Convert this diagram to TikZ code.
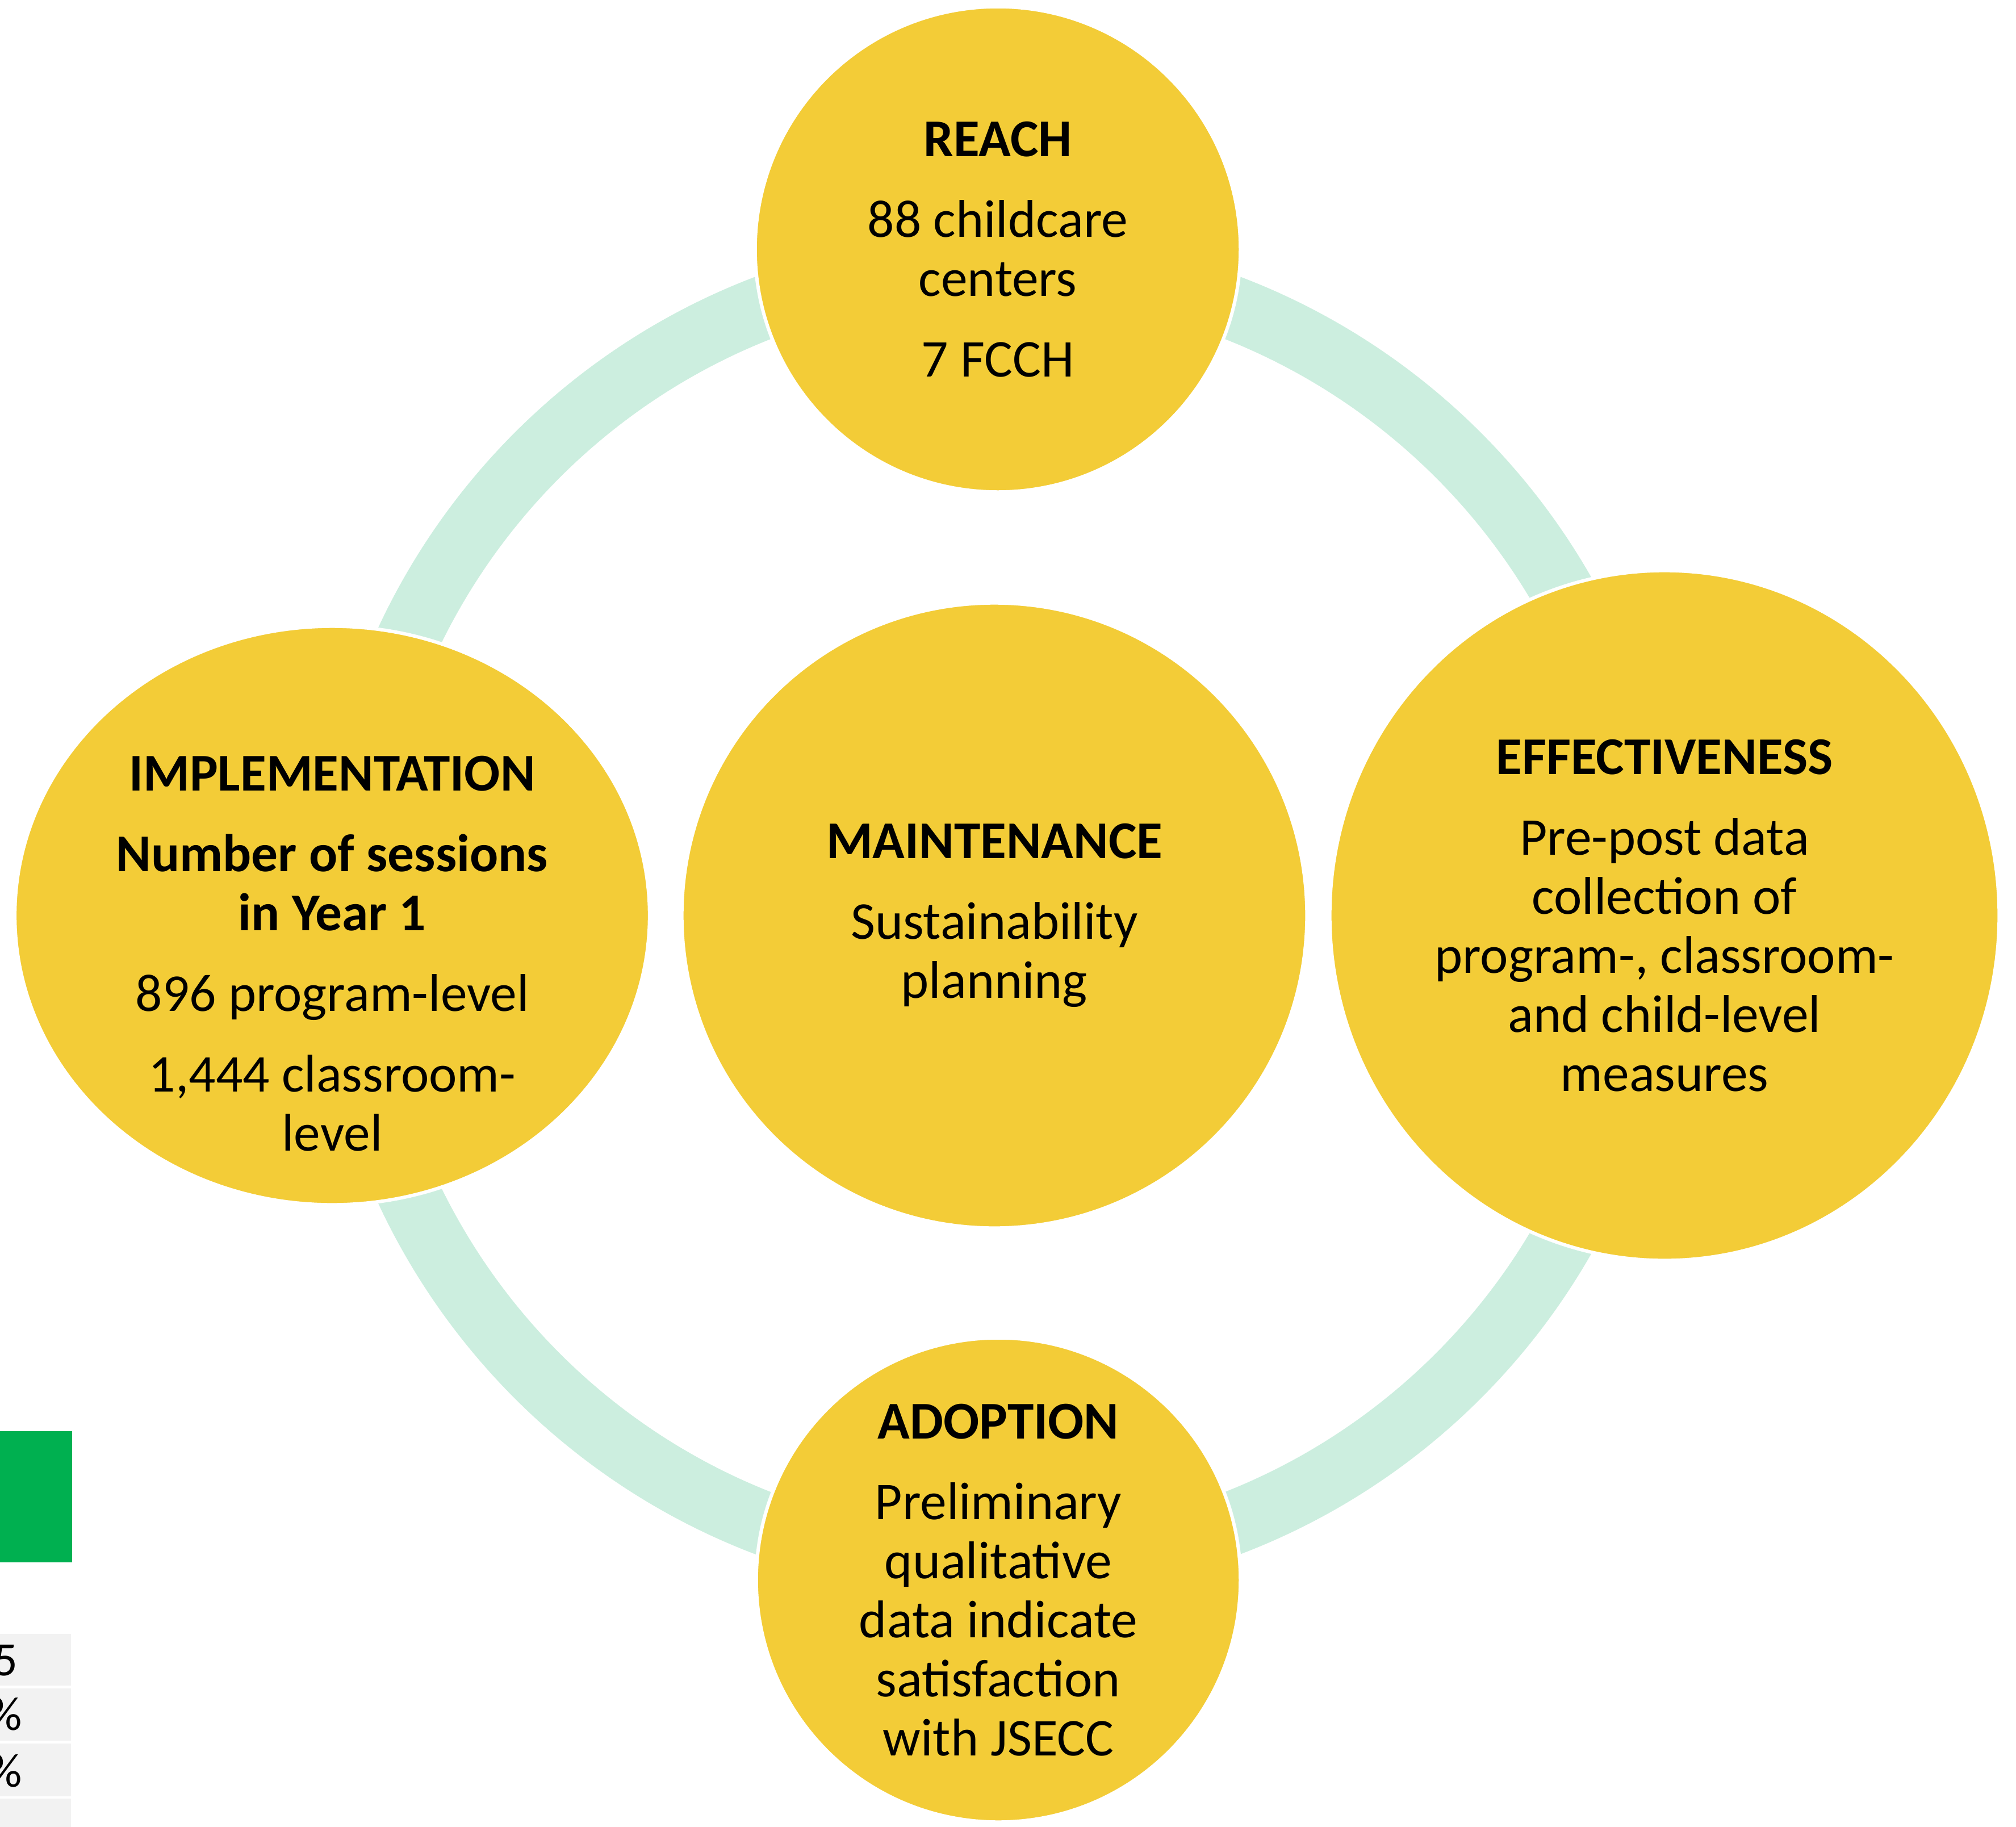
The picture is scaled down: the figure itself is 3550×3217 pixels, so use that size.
\documentclass[tikz,border=0pt]{standalone}
\usepackage{fontspec}
\setmainfont{Carlito}
\usepackage{tikz}
\usetikzlibrary{shapes.geometric}
\definecolor{stageyellow}{HTML}{F3CC37}
\definecolor{ringmint}{HTML}{CCEEDF}
\definecolor{cellgreen}{HTML}{00B050}
\definecolor{cellgray}{HTML}{F2F2F2}

\begin{document}
\begin{tikzpicture}[x=0.01cm,y=-0.01cm,
	stagefont/.style={font=\fontsize{26.6pt}{29.6pt}\selectfont},
	stage/.style={circle,fill=stageyellow,draw=white,line width=0.06cm,inner sep=0pt,align=center,stagefont},
	stageoval/.style={ellipse,fill=stageyellow,draw=white,line width=0.06cm,inner sep=0pt,align=center,stagefont},
	celltext/.style={inner sep=0pt,font=\fontsize{24pt}{28pt}\selectfont}]
		\useasboundingbox (0,0) rectangle (3550,3217);
		\coordinate (hub) at (1757,1612);
		\draw[ringmint,line width=1.12cm] (hub) circle[radius=11.46cm];
		\node[stage,minimum size=11cm] (maint) at (1751,1612)
			{\textbf{MAINTENANCE}\\[0.38cm]Sustainability\\planning};
		\node[stage,minimum size=8.54cm] (reach) at (1757,439)
			{\textbf{REACH}\\[0.38cm]88 childcare\\centers\\[0.38cm]7 FCCH};
		\node[stageoval,minimum width=11.78cm,minimum height=12.14cm] (effect) at (2931,1612)
			{\textbf{EFFECTIVENESS}\\[0.38cm]Pre-post data\\collection of\\program-, classroom-\\and child-level\\measures};
		\node[stage,minimum size=8.52cm] (adopt) at (1758,2782)
			{\textbf{ADOPTION}\\[0.38cm]Preliminary\\qualitative\\data indicate\\satisfaction\\with JSECC};
		\node[stageoval,minimum width=11.17cm,minimum height=10.18cm] (impl) at (585,1612) {};
		\node[align=center,inner sep=0pt,stagefont] (impltext) at ([yshift=-0.67cm]impl.center)
			{\textbf{IMPLEMENTATION}\\[0.38cm]\textbf{Number of sessions}\\\textbf{in Year 1}\\[0.38cm]896 program-level\\[0.38cm]1,444 classroom-\\level};
		\fill[cellgreen] (0,2520) rectangle (127,2751);
		\fill[cellgray] (0,2877) rectangle (125,2968);
		\fill[cellgray] (0,2973) rectangle (125,3065);
		\fill[cellgray] (0,3070) rectangle (125,3163);
		\fill[cellgray] (0,3167) rectangle (125,3217);
		\node[celltext,anchor=base east] (cellA) at (32,2950) {5};
		\node[celltext,anchor=base east] (cellB) at (40,3046) {\%};
		\node[celltext,anchor=base east] (cellC) at (40,3146) {\%};
\end{tikzpicture}
\end{document}
